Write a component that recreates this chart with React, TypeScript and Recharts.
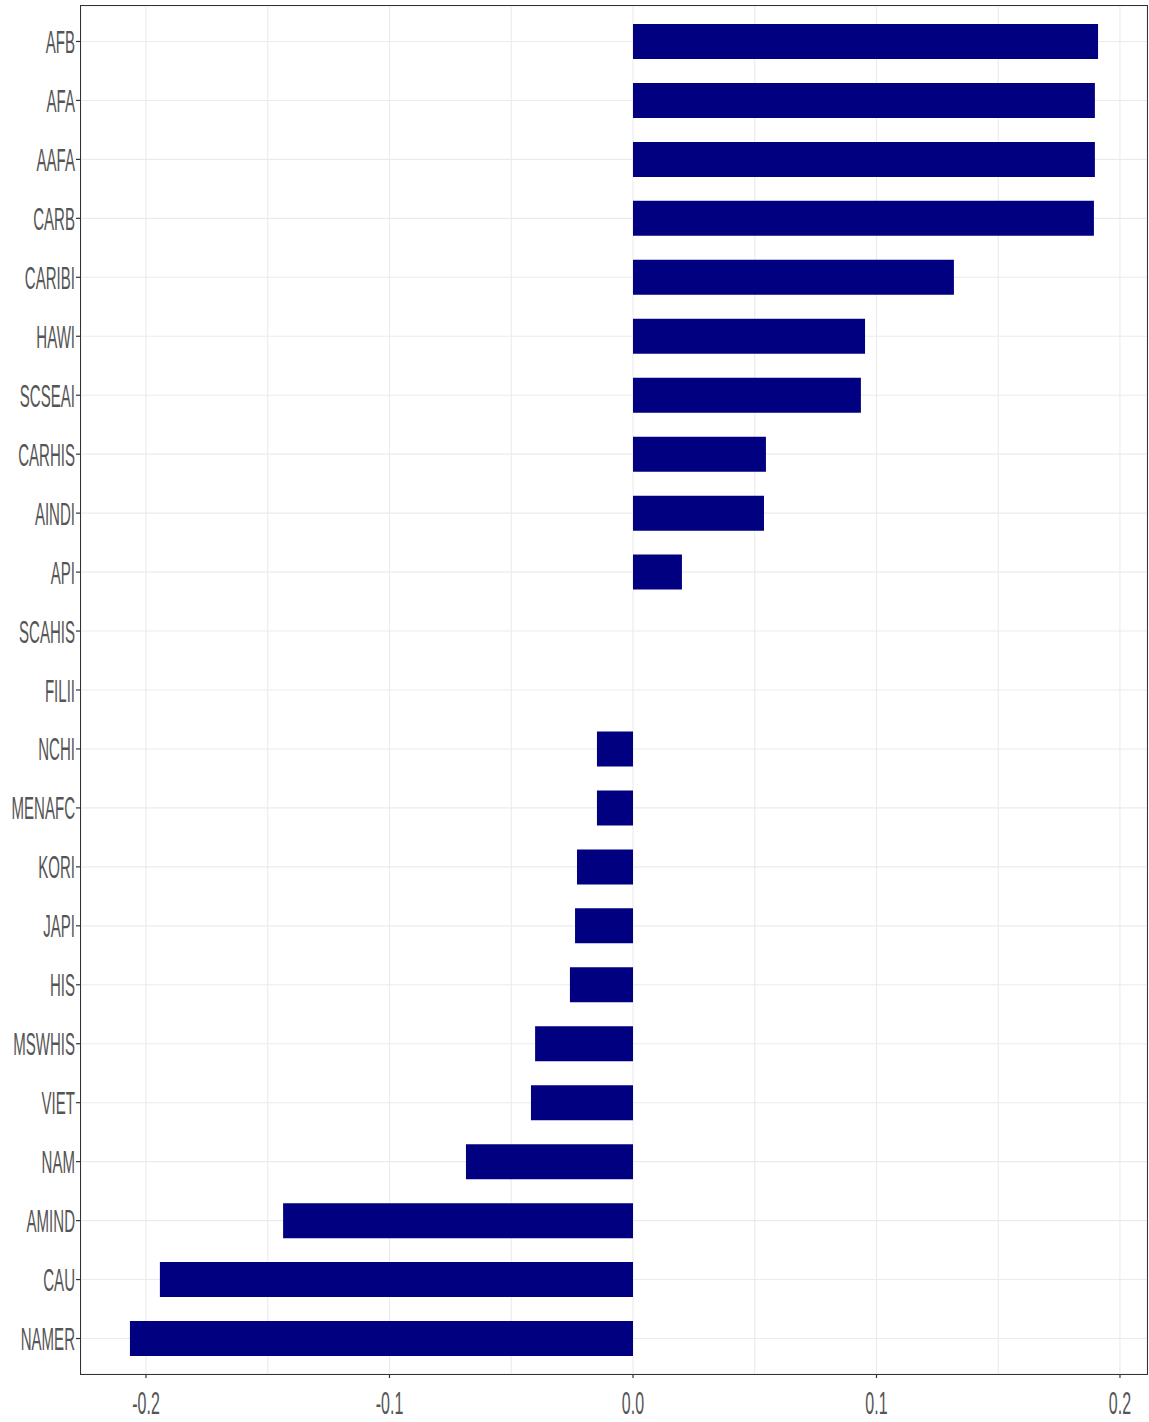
import React from 'react';
import { BarChart, Bar, XAxis, YAxis, CartesianGrid } from 'recharts';

// group labels, top to bottom
const groups = [
  'AFB', 'AFA', 'AAFA', 'CARB', 'CARIBI', 'HAWI', 'SCSEAI', 'CARHIS', 'AINDI', 'API', 'SCAHIS', 'FILII',
  'NCHI', 'MENAFC', 'KORI', 'JAPI', 'HIS', 'MSWHIS', 'VIET', 'NAM', 'AMIND', 'CAU', 'NAMER',
];
const values = [
  0.191, 0.1897, 0.1897, 0.1893, 0.1318, 0.0953, 0.0936, 0.0546, 0.0538, 0.0201, 0, 0,
  -0.0148, -0.0148, -0.023, -0.0238, -0.0259, -0.0402, -0.0419, -0.0686, -0.1437, -0.1943, -0.2066,
];
const majorTicks = [-0.2, -0.1, 0, 0.1, 0.2];
const allTicks = [-0.2, -0.15, -0.1, -0.05, 0, 0.05, 0.1, 0.15, 0.2];

const data = groups.map((g, i) => ({ group: g, value: values[i] }));

const W = 1149;
const H = 1422;
const LEFT = 81;
const TOP = 6;
const RIGHT = 2;
const XAXIS_H = 48;
const FONT = 'Liberation Sans, Arial, sans-serif';

const YTick = ({ x, y, payload }: any) => (
  <text
    transform={`translate(${x},${y + 11.5}) scale(0.47,1)`}
    textAnchor="end"
    fontSize={32}
    fontFamily={FONT}
    fill="#555"
  >
    {payload.value}
  </text>
);

const XTick = ({ x, y, payload }: any) => {
  const isMajor = majorTicks.some((t) => Math.abs(t - payload.value) < 1e-9);
  if (!isMajor) return null;
  const label = payload.value.toFixed(1);
  return (
    <g>
      <line x1={x} x2={x} y1={TOP + (H - TOP - XAXIS_H)} y2={TOP + (H - TOP - XAXIS_H) + 4} stroke="#333" strokeWidth={1.2} />
      <text
        transform={`translate(${x},${y + 34}) scale(0.5,1)`}
        textAnchor="middle"
        fontSize={32}
        fontFamily={FONT}
        fill="#555"
      >
        {label}
      </text>
    </g>
  );
};

export default function App() {
  const plotW = W - LEFT - RIGHT;
  const plotH = H - TOP - XAXIS_H;
  return (
    <div style={{ position: 'absolute', left: 0, top: 0, width: W, height: H, background: '#fff' }}>
      <BarChart
        width={W}
        height={H}
        data={data}
        layout="vertical"
        margin={{ top: TOP, right: RIGHT, left: 0, bottom: 0 }}
        barSize={35}
      >
        <CartesianGrid stroke="#EBEBEB" strokeWidth={1.1} />
        <XAxis
          type="number"
          domain={[-0.2267, 0.2111]}
          ticks={allTicks}
          allowDataOverflow
          height={XAXIS_H}
          tick={<XTick />}
          tickLine={false}
          tickSize={4}
          tickMargin={2}
          axisLine={false}
          interval={0}
        />
        <YAxis
          type="category"
          dataKey="group"
          width={LEFT}
          padding={{ top: 6, bottom: 6 }}
          tick={<YTick />}
          tickLine={{ stroke: '#333', strokeWidth: 1.2 }}
          tickSize={5}
          tickMargin={1}
          axisLine={false}
          interval={0}
        />
        <Bar dataKey="value" fill="#000080" isAnimationActive={false} />
      </BarChart>
      <div
        style={{
          position: 'absolute',
          left: LEFT - 1,
          top: TOP - 1,
          width: plotW,
          height: plotH,
          border: '1.5px solid #333',
          pointerEvents: 'none',
        }}
      />
    </div>
  );
}
